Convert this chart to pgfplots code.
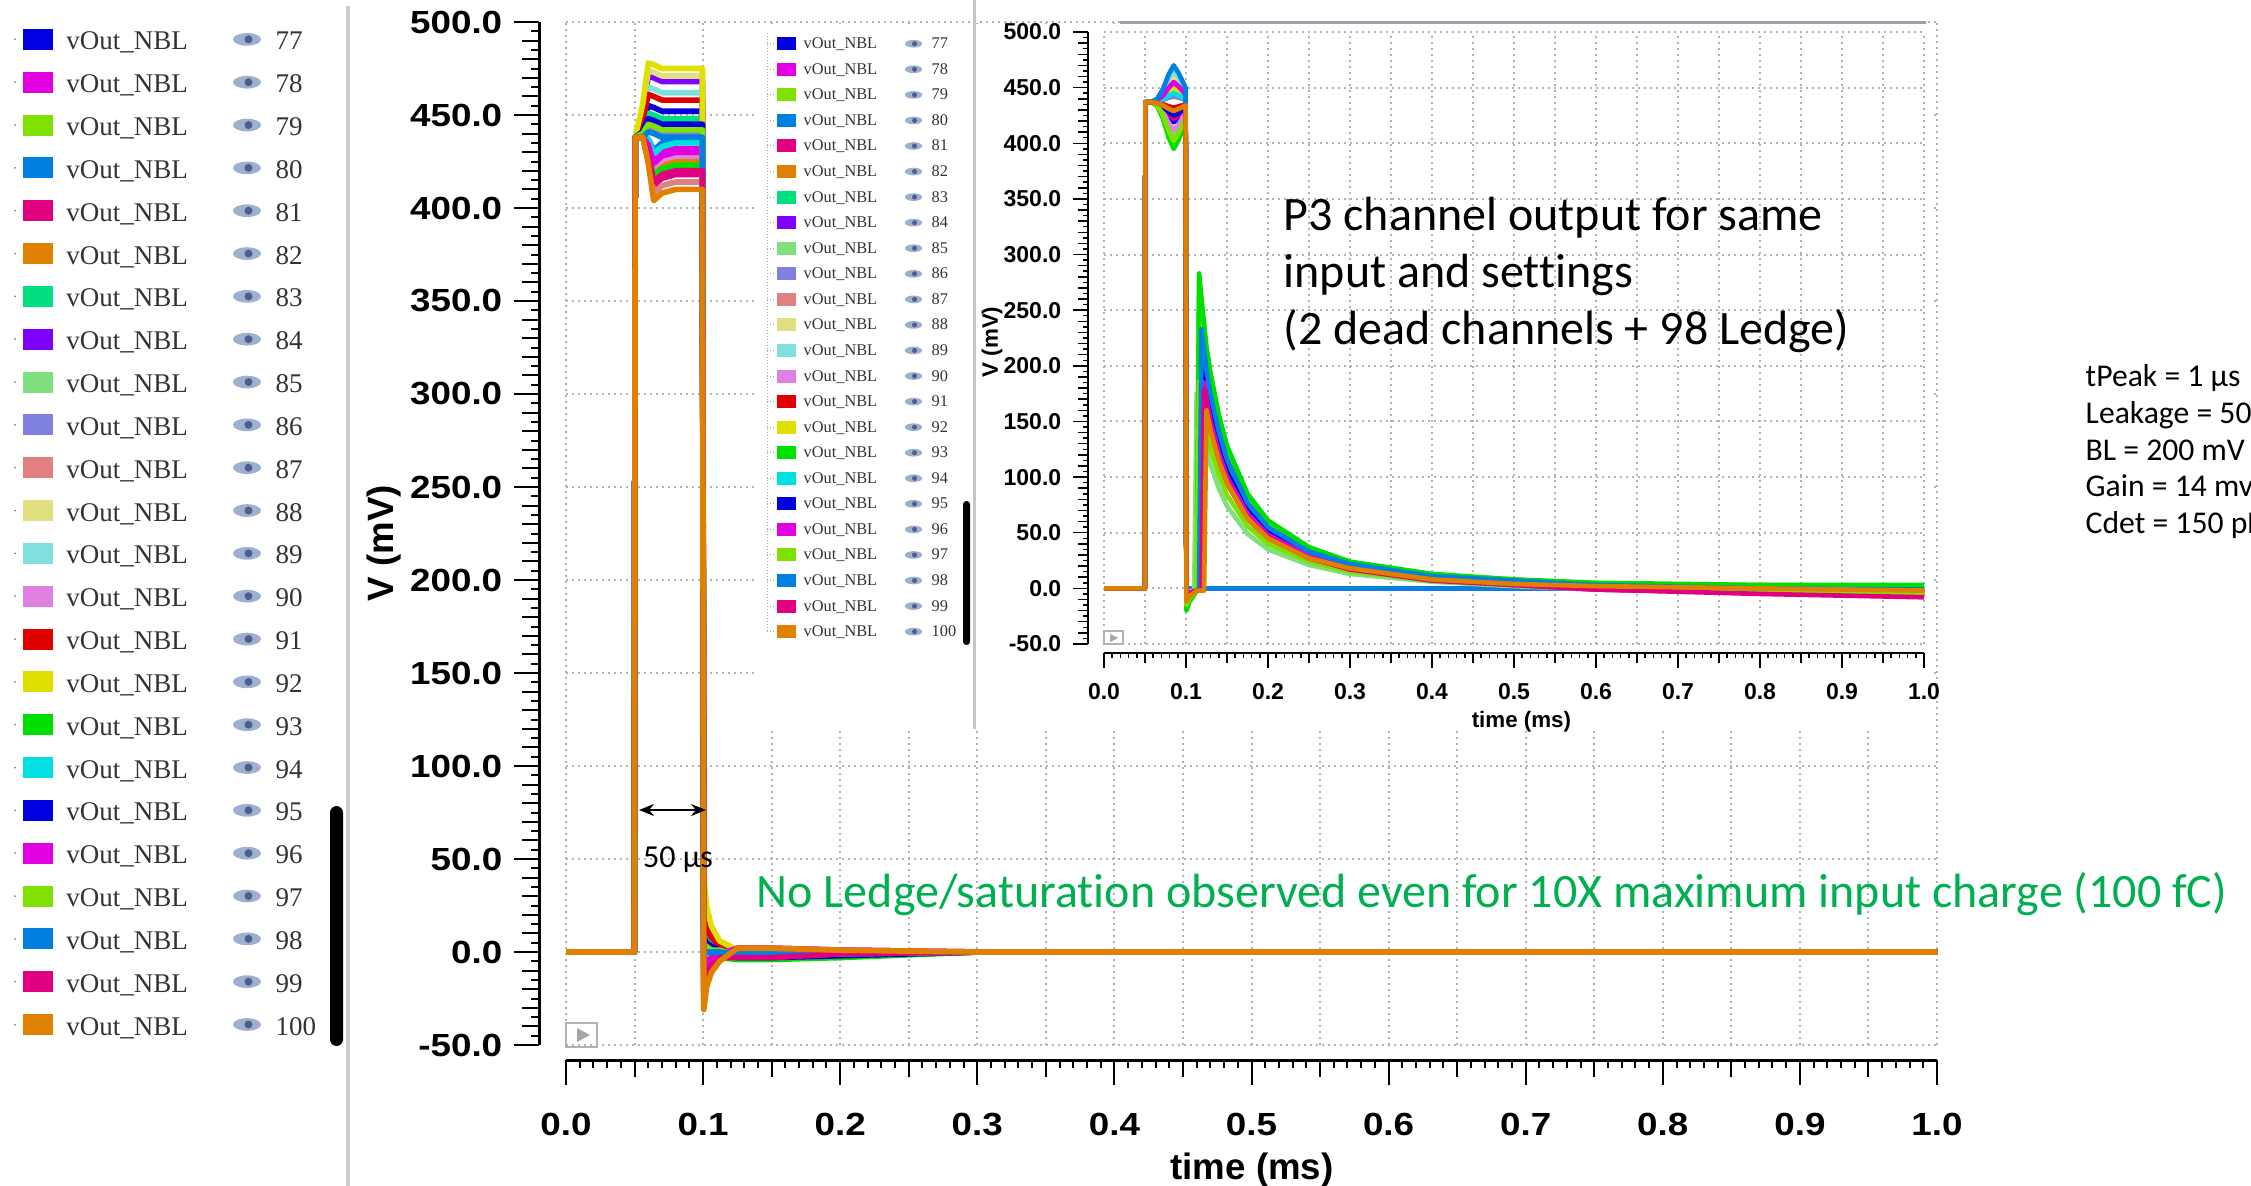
\documentclass[border=0pt]{standalone}
\usepackage{fontspec}
\usepackage{pgfplots}
\usepackage{pgfplotstable}
\pgfplotsset{compat=1.18}
\usetikzlibrary{arrows.meta}
\setmainfont{Liberation Sans}
\newfontfamily\rulerfont{Liberation Sans}[FakeStretch=1.15]
\newfontfamily\legfont{Liberation Serif}
\newfontfamily\calfont{Carlito}[Ligatures=NoCommon]

% trace colours, channels 77-94, then repeating
\definecolor{ch77}{HTML}{0000E0}
\definecolor{ch78}{HTML}{E000E0}
\definecolor{ch79}{HTML}{80E000}
\definecolor{ch80}{HTML}{0080E0}
\definecolor{ch81}{HTML}{E00080}
\definecolor{ch82}{HTML}{E08000}
\definecolor{ch83}{HTML}{00E080}
\definecolor{ch84}{HTML}{8000FF}
\definecolor{ch85}{HTML}{80E080}
\definecolor{ch86}{HTML}{8080E0}
\definecolor{ch87}{HTML}{E08080}
\definecolor{ch88}{HTML}{E0E080}
\definecolor{ch89}{HTML}{80E0E0}
\definecolor{ch90}{HTML}{E080E0}
\definecolor{ch91}{HTML}{E00000}
\definecolor{ch92}{HTML}{E0E000}
\definecolor{ch93}{HTML}{00E000}
\definecolor{ch94}{HTML}{00E0E0}
\colorlet{ch95}{ch77}
\colorlet{ch96}{ch78}
\colorlet{ch97}{ch79}
\colorlet{ch98}{ch80}
\colorlet{ch99}{ch81}
\colorlet{ch100}{ch82}
\definecolor{legtext}{HTML}{333333}
\definecolor{eyelight}{HTML}{9FB0CF}
\definecolor{eyedark}{HTML}{4A5F8C}
\definecolor{steel}{HTML}{9AA3AE}
\definecolor{ledgegreen}{HTML}{00B050}

% vOut_NBL, 10X charge, channels 77-100
\pgfplotstableread{
t s77 s78 s79 s80 s81 s82 s83 s84 s85 s86 s87 s88 s89 s90 s91 s92 s93 s94 s95 s96 s97 s98 s99 s100
0 0 0 0 0 0 0 0 0 0 0 0 0 0 0 0 0 0 0 0 0 0 0 0 0
0.0498 0 0 0 0 0 0 0 0 0 0 0 0 0 0 0 0 0 0 0 0 0 0 0 0
0.0505 438 438 438 438 438 438 438 438 438 438 438 438 438 438 438 438 438 438 438 438 438 438 438 438
0.056 445 438 442 438 438 438 443 453 441 439 438 454 450 438 448 456 438 438 441 438 440 438 438 438
0.060 455 435 450 437 428 432 451 471 447 443 426 474 465 433 461 478 431 437 448 434 445 441 429 424
0.064 454 426 449 431 412 419 450 470 446 442 408 473 464 422 460 477 417 429 447 424 444 440 414 404
0.070 452 430 447 435 416 423 448 468 444 440 412 471 462 426 458 475 421 433 445 428 442 438 418 408
0.080 452 432 447 437 418 425 448 468 444 440 414 471 462 428 458 475 423 435 445 430 442 438 420 410
0.0995 452 432 447 437 418 425 448 468 444 440 414 471 462 428 458 475 423 435 445 430 442 438 420 410
0.1005 15 -7 10 -1 -22 -14 11 33 7 2 -26 36 26 -11 22 41 -17 -3 8 -9 4 0 -20 -31
0.1025 9 -4 6 -1 -13 -8 7 20 4 1 -16 22 16 -7 13 25 -10 -2 5 -5 3 0 -12 -19
0.106 5 -2 4 0 -8 -5 4 12 2 1 -9 13 9 -4 8 14 -6 -1 3 -3 1 0 -7 -11
0.112 2 -1 2 0 -3 -2 2 5 1 0 -4 5 4 -2 3 6 -3 0 1 -1 1 0 -3 -5
0.125 -3 2 -2 -1 -3 1 -2 1 -1 -2 -1 -2 0 2 -3 1 -4 -1 -3 2 -2 -1 -3 2
0.15 -3 2 -2 -1 -3 1 -2 1 -1 -2 -1 -2 0 2 -3 1 -4 -1 -3 2 -2 -1 -3 2
0.2 -2 1 -1 0 -2 0 -1 0 0 -1 0 -1 0 1 -1 0 -3 0 -2 1 -1 0 -1 1
0.3 0 0 0 0 0 0 0 0 0 0 0 0 0 0 0 0 0 0 0 0 0 0 0 0
1.0 0 0 0 0 0 0 0 0 0 0 0 0 0 0 0 0 0 0 0 0 0 0 0 0
}\maintab

% P3 channel, same input and settings (77 and 80 dead)
\pgfplotstableread{
t s77 s78 s79 s80 s81 s82 s83 s84 s85 s86 s87 s88 s89 s90 s91 s92 s93 s94 s95 s96 s97 s98 s99 s100
0 0 0 0 0 0 0 0 0 0 0 0 0 0 0 0 0 0 0 0 0 0 0 0 0
0.0498 0 0 0 0 0 0 0 0 0 0 0 0 0 0 0 0 0 0 0 0 0 0 0 0
0.0505 437 437 437 437 437 437 437 437 437 437 437 437 437 437 437 437 437 437 437 437 437 437 437 437
0.058 437 437 437 437 437 437 437 437 437 437 437 437 437 437 437 437 437 437 437 437 437 437 437 437
0.065 435 438 440 440 436 436 439 439 434 438 436 439 440 434 436 438 433 438 436 439 434 440 436 436
0.072 431 440 446 447 432 435 442 444 426 439 433 445 447 428 435 441 422 440 433 443 425 449 434 434
0.079 423 444 456 459 426 433 448 452 414 441 429 453 458 418 433 446 405 443 428 450 411 462 431 431
0.085 419 447 462 467 422 432 452 457 407 442 427 459 465 412 432 449 395 445 425 455 402 470 429 429
0.091 423 445 457 461 425 433 449 453 413 441 429 455 459 417 433 447 403 443 427 451 409 463 431 431
0.0995 430 441 447 449 431 435 443 445 425 439 433 446 448 427 435 442 420 440 432 444 423 450 434 434
0.1005 0 -6 -10 0 -12 -5 -9 -7 -14 -6 -10 -8 -6 -11 -9 -7 -20 -8 -9 -7 -15 -10 -10 -12
0.104 0 -4 -6 0 -7 -3 -5 -4 -8 -4 -6 -5 -4 -7 -5 -4 -12 -5 -5 -4 -9 -6 -6 -7
0.108 0 -2 -4 0 -5 -2 -4 -3 -6 -2 -4 -3 -2 -4 -4 -3 -8 -3 -4 -3 -6 -4 -4 -5
0.110 0 -2 -3 0 -4 -2 -3 -2 -4 -2 -3 -2 -2 -3 -3 -2 -6 -2 -3 -2 -5 -3 -3 -4
0.113 0 -2 -2 0 -2 -2 -2 -2 175 -2 -2 -2 -2 -2 -2 -2 -2 -2 -2 -2 -2 -2 -2 -2
0.116 0 -2 267 0 -2 -2 244 -2 162 -2 -2 255 -2 -2 -2 244 283 -2 -2 -2 186 -2 -2 -2
0.119 0 -2 244 0 201 -2 223 212 148 201 -2 233 212 201 -2 223 259 212 -2 -2 170 233 -2 -2
0.122 0 176 224 0 185 176 205 195 137 185 176 215 195 185 176 205 238 195 195 185 156 215 179 -2
0.125 0 160 205 0 169 160 187 178 125 169 160 196 178 169 160 187 217 178 178 169 142 196 164 160
0.13 0 142 182 0 150 142 166 158 111 150 142 174 158 150 142 166 193 158 158 150 126 174 145 142
0.14 0 115 147 0 122 115 134 128 90 122 115 141 128 122 115 134 156 128 128 122 102 141 118 115
0.15 0 95 121 0 100 95 110 105 74 100 95 116 105 100 95 110 128 105 105 100 84 116 97 95
0.175 0 63 81 0 67 63 74 70 49 67 63 77 70 67 63 74 85 70 70 67 56 77 64 63
0.2 0 45 58 0 48 45 53 50 35 48 45 55 50 48 45 53 61 50 50 48 40 55 46 45
0.25 0 27 35 0 29 27 32 30 21 29 27 33 30 29 27 32 37 30 30 29 24 33 27 27
0.3 0 17 23 0 18 18 21 19 13 18 18 22 20 18 17 21 24 20 20 18 15 22 17 18
0.4 0 7 12 0 8 8 11 9 6 9 8 11 10 9 8 11 13 10 9 8 7 11 7 8
0.5 0 2 8 0 4 4 6 4 2 4 4 7 5 4 3 7 8 6 5 3 3 7 3 4
0.6 0 -1 4 0 0 2 3 1 -1 0 1 4 2 0 1 4 5 2 2 -1 0 3 -1 2
0.8 0 -4 3 0 -4 0 1 -2 -4 -3 -1 2 0 -3 -2 2 3 0 -1 -4 -2 0 -5 0
1.0 0 -7 2 0 -6 -2 0 -4 -6 -5 -3 1 -2 -5 -4 1 3 -1 -3 -7 -4 -1 -8 -2
}\insettab

\pgfplotsset{
  wave/.style={
    scale only axis, anchor=south west,
    xmin=0, xmax=1, ymin=-50, ymax=500,
    axis x line*=bottom, axis y line*=left, separate axis lines,
    tick align=outside,
    xtick={0,0.1,0.2,0.3,0.4,0.5,0.6,0.7,0.8,0.9,1},
    ytick={-50,0,50,100,150,200,250,300,350,400,450,500},
    minor x tick num=9, minor y tick num=9,
    extra x ticks={0.05,0.15,0.25,0.35,0.45,0.55,0.65,0.75,0.85,0.95},
    extra x tick labels={},
    extra y ticks={-40,-30,-20,-10,10,20,30,40,60,70,80,90,110,120,130,140,160,170,180,190,210,220,230,240,260,270,280,290,310,320,330,340,360,370,380,390,410,420,430,440,460,470,480,490},
    extra y tick labels={},
    xmajorgrids, ymajorgrids,
    grid style={gray!60, line width=0.6pt, dash pattern=on 0.6pt off 1.2pt},
    xticklabel style={/pgf/number format/fixed, /pgf/number format/fixed zerofill,
      /pgf/number format/precision=1, /pgf/number format/assume math mode=true},
    yticklabel style={/pgf/number format/fixed, /pgf/number format/fixed zerofill,
      /pgf/number format/precision=1, /pgf/number format/assume math mode=true},
    xlabel={time (ms)}, ylabel={V (mV)},
  },
}

\begin{document}
\begin{tikzpicture}
\useasboundingbox (0,0) rectangle (675.3pt,-355.8pt);
\clip (0,0) rectangle (675.3pt,-355.8pt);

% ---------- full-range view ----------
\begin{axis}[wave,
  at={(169.8pt,-313.5pt)}, width=411.3pt, height=306.9pt,
  axis x line shift=4.5pt, axis y line shift=8.1pt,
  major tick length=7.5pt, minor tick length=2.4pt,
  extra x tick style={grid=major, major tick length=5.1pt},
  extra y tick style={grid=none, major tick length=5.1pt},
  tick style={black, line width=0.6pt},
  axis line style={black, line width=0.9pt},
  every tick label/.append style={font=\rulerfont\bfseries\fontsize{9.6}{10}\selectfont},
  every x tick label/.append style={yshift=-4.8pt},
  label style={font=\bfseries\fontsize{11}{12}\selectfont},
  xlabel style={at={(axis description cs:0.5004,-0.1222)}, anchor=center},
  ylabel style={at={(axis description cs:-0.1328,0.4907)}, anchor=center},
  every axis plot/.append style={line width=1.7pt, line join=round},
]
\pgfplotsinvokeforeach{77,78,79,80,81,82,83,84,85,86,87,88,89,90,91,92,93,94,95,96,97,98,99,100}{
  \addplot[color=ch#1] table[x=t, y=s#1] {\maintab};
}
\end{axis}

\begin{scope}[x=0.3pt, y=-0.3pt]
  % white panel holding the trace list and the P3 view
  \fill[white] (757,24) rectangle (1933,730);
  \draw[steel, line width=0.9pt] (1120,23) -- (1926,23);
  % trace list of the P3 view
  \draw[gray!70, line width=0.3pt, dash pattern=on 0.3pt off 0.6pt] (767,33) -- (767,632);
  \foreach \n [count=\i from 0] in {77,...,100} {
    \pgfmathsetmacro\yy{43.75+25.56*\i}
    \draw[gray!70, line width=0.3pt, dash pattern=on 0.3pt off 0.6pt] (767,\yy) -- (774,\yy);
    \fill[ch\n] (777,{\yy-6.5}) rectangle (796,{\yy+6.5});
    \node[anchor=base west, inner sep=0, text=legtext, font=\legfont\fontsize{4.9}{5}\selectfont] at (803,{\yy+5}) {vOut\_NBL};
    \fill[eyelight] (913.5,\yy) ellipse [x radius=2.6pt, y radius=1.15pt];
    \fill[eyedark] (914.5,\yy) circle [radius=0.75pt];
    \node[anchor=base west, inner sep=0, text=legtext, font=\legfont\fontsize{4.9}{5}\selectfont] at (931,{\yy+5}) {\n};
  }
  \fill[black, rounded corners=1pt] (963,501) rectangle (970,645);
\end{scope}

% ---------- P3 channel view ----------
\begin{axis}[wave,
  at={(331.2pt,-193.2pt)}, width=246pt, height=183.6pt,
  axis x line shift=2.7pt, axis y line shift=4.8pt,
  major tick length=4.5pt, minor tick length=1.5pt,
  extra x tick style={grid=major, major tick length=3pt},
  extra y tick style={grid=none, major tick length=3pt},
  tick style={black, line width=0.45pt},
  axis line style={black, line width=0.6pt},
  every tick label/.append style={font=\bfseries\fontsize{6.9}{7}\selectfont},
  every x tick label/.append style={yshift=-1.2pt},
  label style={font=\bfseries\fontsize{6.7}{7}\selectfont},
  xlabel style={at={(axis description cs:0.509,-0.1275)}, anchor=center},
  ylabel style={at={(axis description cs:-0.1366,0.4935)}, anchor=center},
  every axis plot/.append style={line width=1.4pt, line join=round},
]
\pgfplotsinvokeforeach{77,78,79,80,81,82,83,84,85,86,87,88,89,90,91,92,93,94,95,96,97,98,99,100}{
  \addplot[color=ch#1] table[x=t, y=s#1] {\insettab};
}
\end{axis}

\begin{scope}[x=0.3pt, y=-0.3pt]
  % frame edges
  \draw[gray!45, line width=0.9pt] (974,0) -- (974,729);
  \draw[gray!40, line width=1.2pt] (348,6) -- (348,1186);
  % zoom buttons
  \draw[gray!60, line width=0.6pt] (566,1023) rectangle (597,1047);
  \fill[gray!70] (577,1028) -- (577,1042) -- (590,1035) -- cycle;
  \draw[gray!60, line width=0.45pt] (1104,631) rectangle (1123,644);
  \fill[gray!70] (1110,634) -- (1110,642) -- (1118,638) -- cycle;
  % trace list of the full-range view
  \foreach \n [count=\i from 0] in {77,...,100} {
    \pgfmathsetmacro\yy{39.4+42.83*\i}
    \fill[gray] (15,\yy) circle [radius=0.3pt];
    \fill[ch\n] (22.7,{\yy-10.5}) rectangle (53.3,{\yy+10.5});
    \node[anchor=base west, inner sep=0, text=legtext, font=\legfont\fontsize{8.1}{9}\selectfont] at (65.7,{\yy+10.5}) {vOut\_NBL};
    \fill[eyelight] (247,\yy) ellipse [x radius=4.2pt, y radius=1.9pt];
    \fill[eyedark] (248.5,\yy) circle [radius=1.2pt];
    \node[anchor=base west, inner sep=0, text=legtext, font=\legfont\fontsize{8.1}{9}\selectfont] at (275,{\yy+10.5}) {\n};
  }
  \fill[black, rounded corners=2pt] (330,806) rectangle (343,1046);
  % pulse width marker
  \draw[{Stealth[length=4.5pt,width=3.6pt]}-{Stealth[length=4.5pt,width=3.6pt]}, line width=0.6pt] (639,810) -- (706,810);
  \node[anchor=base, inner sep=0, font=\calfont\fontsize{9.6}{11}\selectfont] at (678,867) {50 µs};
  % notes
  \node[anchor=base west, inner sep=0, text=ledgegreen, font=\calfont\fontsize{14.4}{16}\selectfont] at (756,907)
    {No Ledge/saturation observed even for 10X maximum input charge (100 fC)};
  \node[anchor=base west, inner sep=0, font=\calfont\fontsize{14.4}{16}\selectfont] at (1283,230) {P3 channel output for same};
  \node[anchor=base west, inner sep=0, font=\calfont\fontsize{14.4}{16}\selectfont] at (1283,287) {input and settings};
  \node[anchor=base west, inner sep=0, font=\calfont\fontsize{14.4}{16}\selectfont] at (1283,344) {(2 dead channels + 98 Ledge)};
  \foreach \s [count=\i from 0] in {tPeak = 1 µs, Leakage = 50 pA, BL = 200 mV, Gain = 14 mv/fC, Cdet = 150 pF} {
    \node[anchor=base west, inner sep=0, font=\calfont\fontsize{9.5}{11}\selectfont] at (2085,{386.7+36.7*\i}) {\s};
  }
\end{scope}
\end{tikzpicture}
\end{document}
